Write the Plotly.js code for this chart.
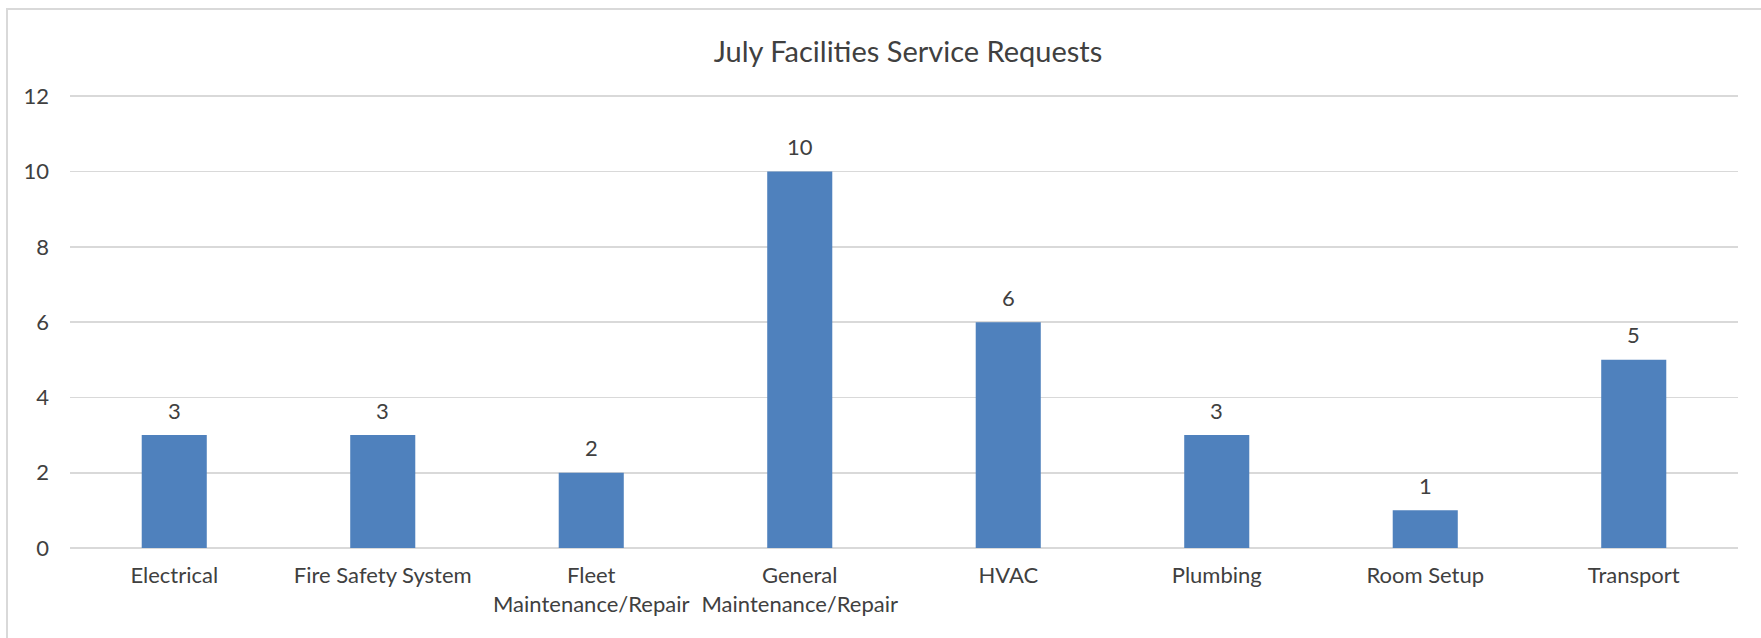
<!DOCTYPE html>
<html>
<head>
<meta charset="utf-8">
<script src="https://cdn.plot.ly/plotly-3.0.1.min.js"></script>
<style>
  html, body { margin: 0; padding: 0; background: #ffffff; }
  #wrap { position: relative; width: 1761px; height: 638px; overflow: hidden; }
  #chart { position: absolute; left: 0; top: 0; width: 1761px; height: 638px; }
  #frame { position: absolute; left: 6px; top: 8px; width: 1800px; height: 700px;
           border-left: 2px solid #d9d9d9; border-top: 2px solid #d9d9d9; pointer-events: none; }
</style>
</head>
<body>
<div id="wrap">
  <div id="chart"></div>
  <div id="frame"></div>
</div>
<script>
const chartTitle = 'July Facilities Service Requests';
const categories = ['Electrical', 'Fire Safety System', 'Fleet Maintenance/Repair', 'General Maintenance/Repair', 'HVAC', 'Plumbing', 'Room Setup', 'Transport'];
const tickLabels = ['Electrical', 'Fire Safety System', 'Fleet<br>Maintenance/Repair', 'General<br>Maintenance/Repair', 'HVAC', 'Plumbing', 'Room Setup', 'Transport'];
const requests = [3, 3, 2, 10, 6, 3, 1, 5];
const yTicks = [0, 2, 4, 6, 8, 10, 12];

const FONT = 'Lato, "Noto Sans", sans-serif';
const TEXT = '#404040';

const trace = {
  type: 'bar',
  x: categories,
  y: requests,
  marker: { color: '#4f81bd', line: { width: 0 } },
  hoverinfo: 'x+y'
};

const annotations = categories.map((c, i) => ({
  x: c,
  y: requests[i],
  xref: 'x',
  yref: 'y',
  text: String(requests[i]),
  showarrow: false,
  yanchor: 'middle',
  yshift: 25,
  font: { family: FONT, size: 22, color: TEXT }
}));

const layout = {
  width: 1761,
  height: 638,
  margin: { l: 70, r: 23, t: 94, b: 90, pad: 0 },
  paper_bgcolor: 'rgba(0,0,0,0)',
  plot_bgcolor: 'rgba(0,0,0,0)',
  showlegend: false,
  bargap: 0.688,
  title: {
    text: chartTitle,
    font: { family: FONT, size: 29, color: TEXT },
    x: 0.5024,
    xref: 'paper',
    xanchor: 'center',
    y: 1 - 52 / 638,
    yref: 'container',
    yanchor: 'middle'
  },
  xaxis: {
    type: 'category',
    tickmode: 'array',
    tickvals: categories,
    ticktext: tickLabels,
    showgrid: false,
    showline: false,
    zeroline: false,
    ticks: '',
    ticklabelstandoff: 12,
    tickfont: { family: FONT, size: 22, color: TEXT },
    fixedrange: true
  },
  yaxis: {
    range: [0, 12.06],
    tickmode: 'array',
    tickvals: yTicks,
    ticktext: yTicks.map(String),
    showgrid: true,
    gridcolor: '#d9d9d9',
    gridwidth: 1.6,
    zeroline: true,
    zerolinecolor: '#d9d9d9',
    zerolinewidth: 1.6,
    showline: false,
    ticks: '',
    ticklabelstandoff: 20,
    tickfont: { family: FONT, size: 22, color: TEXT },
    fixedrange: true
  },
  annotations: annotations
};

Plotly.newPlot('chart', [trace], layout, { displayModeBar: false, staticPlot: true });
</script>
</body>
</html>
